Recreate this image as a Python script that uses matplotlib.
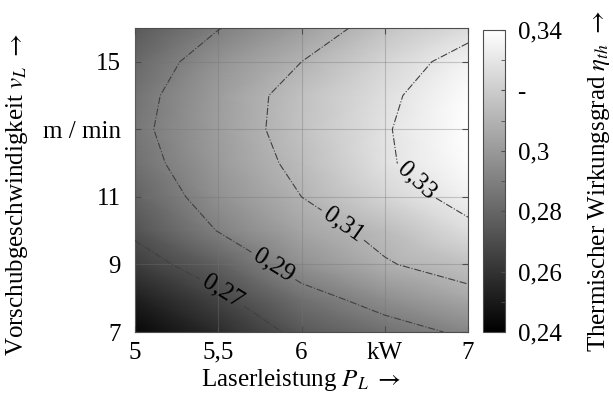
import numpy as np
import matplotlib
matplotlib.use("Agg")
import matplotlib.pyplot as plt

plt.rcParams['font.family'] = ['Liberation Serif', 'DejaVu Serif']
plt.rcParams['mathtext.fontset'] = 'stix'
plt.rcParams['font.size'] = 18

# Laserleistung (kW) und Vorschubgeschwindigkeit (m/min)
leistung = [5.0, 5.5, 6.0, 6.5, 7.0]
vorschub = [7, 8, 9, 10, 11, 12, 13, 14, 15, 16]

# thermischer Wirkungsgrad, Zeilen = vorschub, Spalten = leistung
eta_v7 = [0.243, 0.257, 0.274, 0.284, 0.2925]
eta_v8 = [0.252, 0.267, 0.2845, 0.296, 0.306]
eta_v9 = [0.264, 0.2775, 0.297, 0.309, 0.3155]
eta_v10 = [0.2725, 0.2905, 0.3045, 0.3135, 0.327]
eta_v11 = [0.279, 0.297, 0.310, 0.3235, 0.3345]
eta_v12 = [0.284, 0.3005, 0.3135, 0.3285, 0.3385]
eta_v13 = [0.2865, 0.302, 0.316, 0.329, 0.340]
eta_v14 = [0.285, 0.3015, 0.3155, 0.3275, 0.339]
eta_v15 = [0.281, 0.2977, 0.310, 0.3235, 0.335]
eta_v16 = [0.275, 0.2895, 0.302, 0.316, 0.326]

hoehen = [0.27, 0.29, 0.31, 0.33]
x_ticks = [5, 5.5, 6, 6.5, 7]
x_labels = ['5', '5,5', '6', 'kW', '7']
y_ticks = [7, 9, 11, 13, 15]
y_labels = ['7', '9', '11', 'm / min', '15']
cb_ticks = [0.24, 0.26, 0.28, 0.30, 0.32, 0.34]
cb_labels = ['0,24', '0,26', '0,28', '0,3', '-', '0,34']

eta = np.array([eta_v7, eta_v8, eta_v9, eta_v10, eta_v11,
                eta_v12, eta_v13, eta_v14, eta_v15, eta_v16])
X, Y = np.meshgrid(leistung, vorschub)

fig = plt.figure(figsize=(6.13, 4.05), dpi=100)
ax = fig.add_axes([0.2202, 0.1802, 0.5433, 0.7507])
cax = fig.add_axes([0.788, 0.1802, 0.036, 0.746])

bild = ax.pcolormesh(X, Y, eta, cmap='gray', vmin=0.24, vmax=0.34,
                     shading='gouraud', zorder=1)
cs = ax.contour(X, Y, eta, levels=hoehen, colors='0.25',
                linestyles='dashdot', linewidths=0.8, zorder=3)
ax.clabel(cs, fmt=lambda v: ('%.2f' % v).replace('.', ','), fontsize=18,
          colors='k', inline=True, inline_spacing=4,
          manual=[(5.55, 8.37), (5.87, 9.26), (6.26, 10.25), (6.74, 11.73)])

ax.set_xlim(5, 7)
ax.set_ylim(7, 16)
ax.set_xticks(x_ticks)
ax.set_xticklabels(x_labels)
ax.set_yticks(y_ticks)
ax.set_yticklabels(y_labels)
ax.grid(color='0.45', alpha=0.35, linewidth=0.8, zorder=2)
ax.set_axisbelow(False)
ax.tick_params(direction='in', length=4, top=True, right=True, color='0.3')
ax.tick_params(axis='x', pad=7)
ax.tick_params(axis='y', pad=10)
for s in ax.spines.values():
    s.set_color('0.3')
ax.set_xlabel(r'Laserleistung $P_L$ $\rightarrow$', labelpad=2)
ax.set_ylabel(r'Vorschubgeschwindigkeit $v_L$ $\rightarrow$')
ax.yaxis.set_label_coords(-0.315, 0.45)

cb = fig.colorbar(bild, cax=cax, ticks=cb_ticks)
cb.ax.set_yticklabels(cb_labels)
cb.ax.set_yticks(np.arange(0.24, 0.345, 0.01), minor=True)
cb.ax.tick_params(which='both', direction='in', length=3, color='0.3', pad=9)
cb.outline.set_edgecolor('0.3')
cb.set_label(r'Thermischer Wirkungsgrad $\eta_{th}$ $\rightarrow$', labelpad=18)

fig.savefig('out.png', dpi=100)
